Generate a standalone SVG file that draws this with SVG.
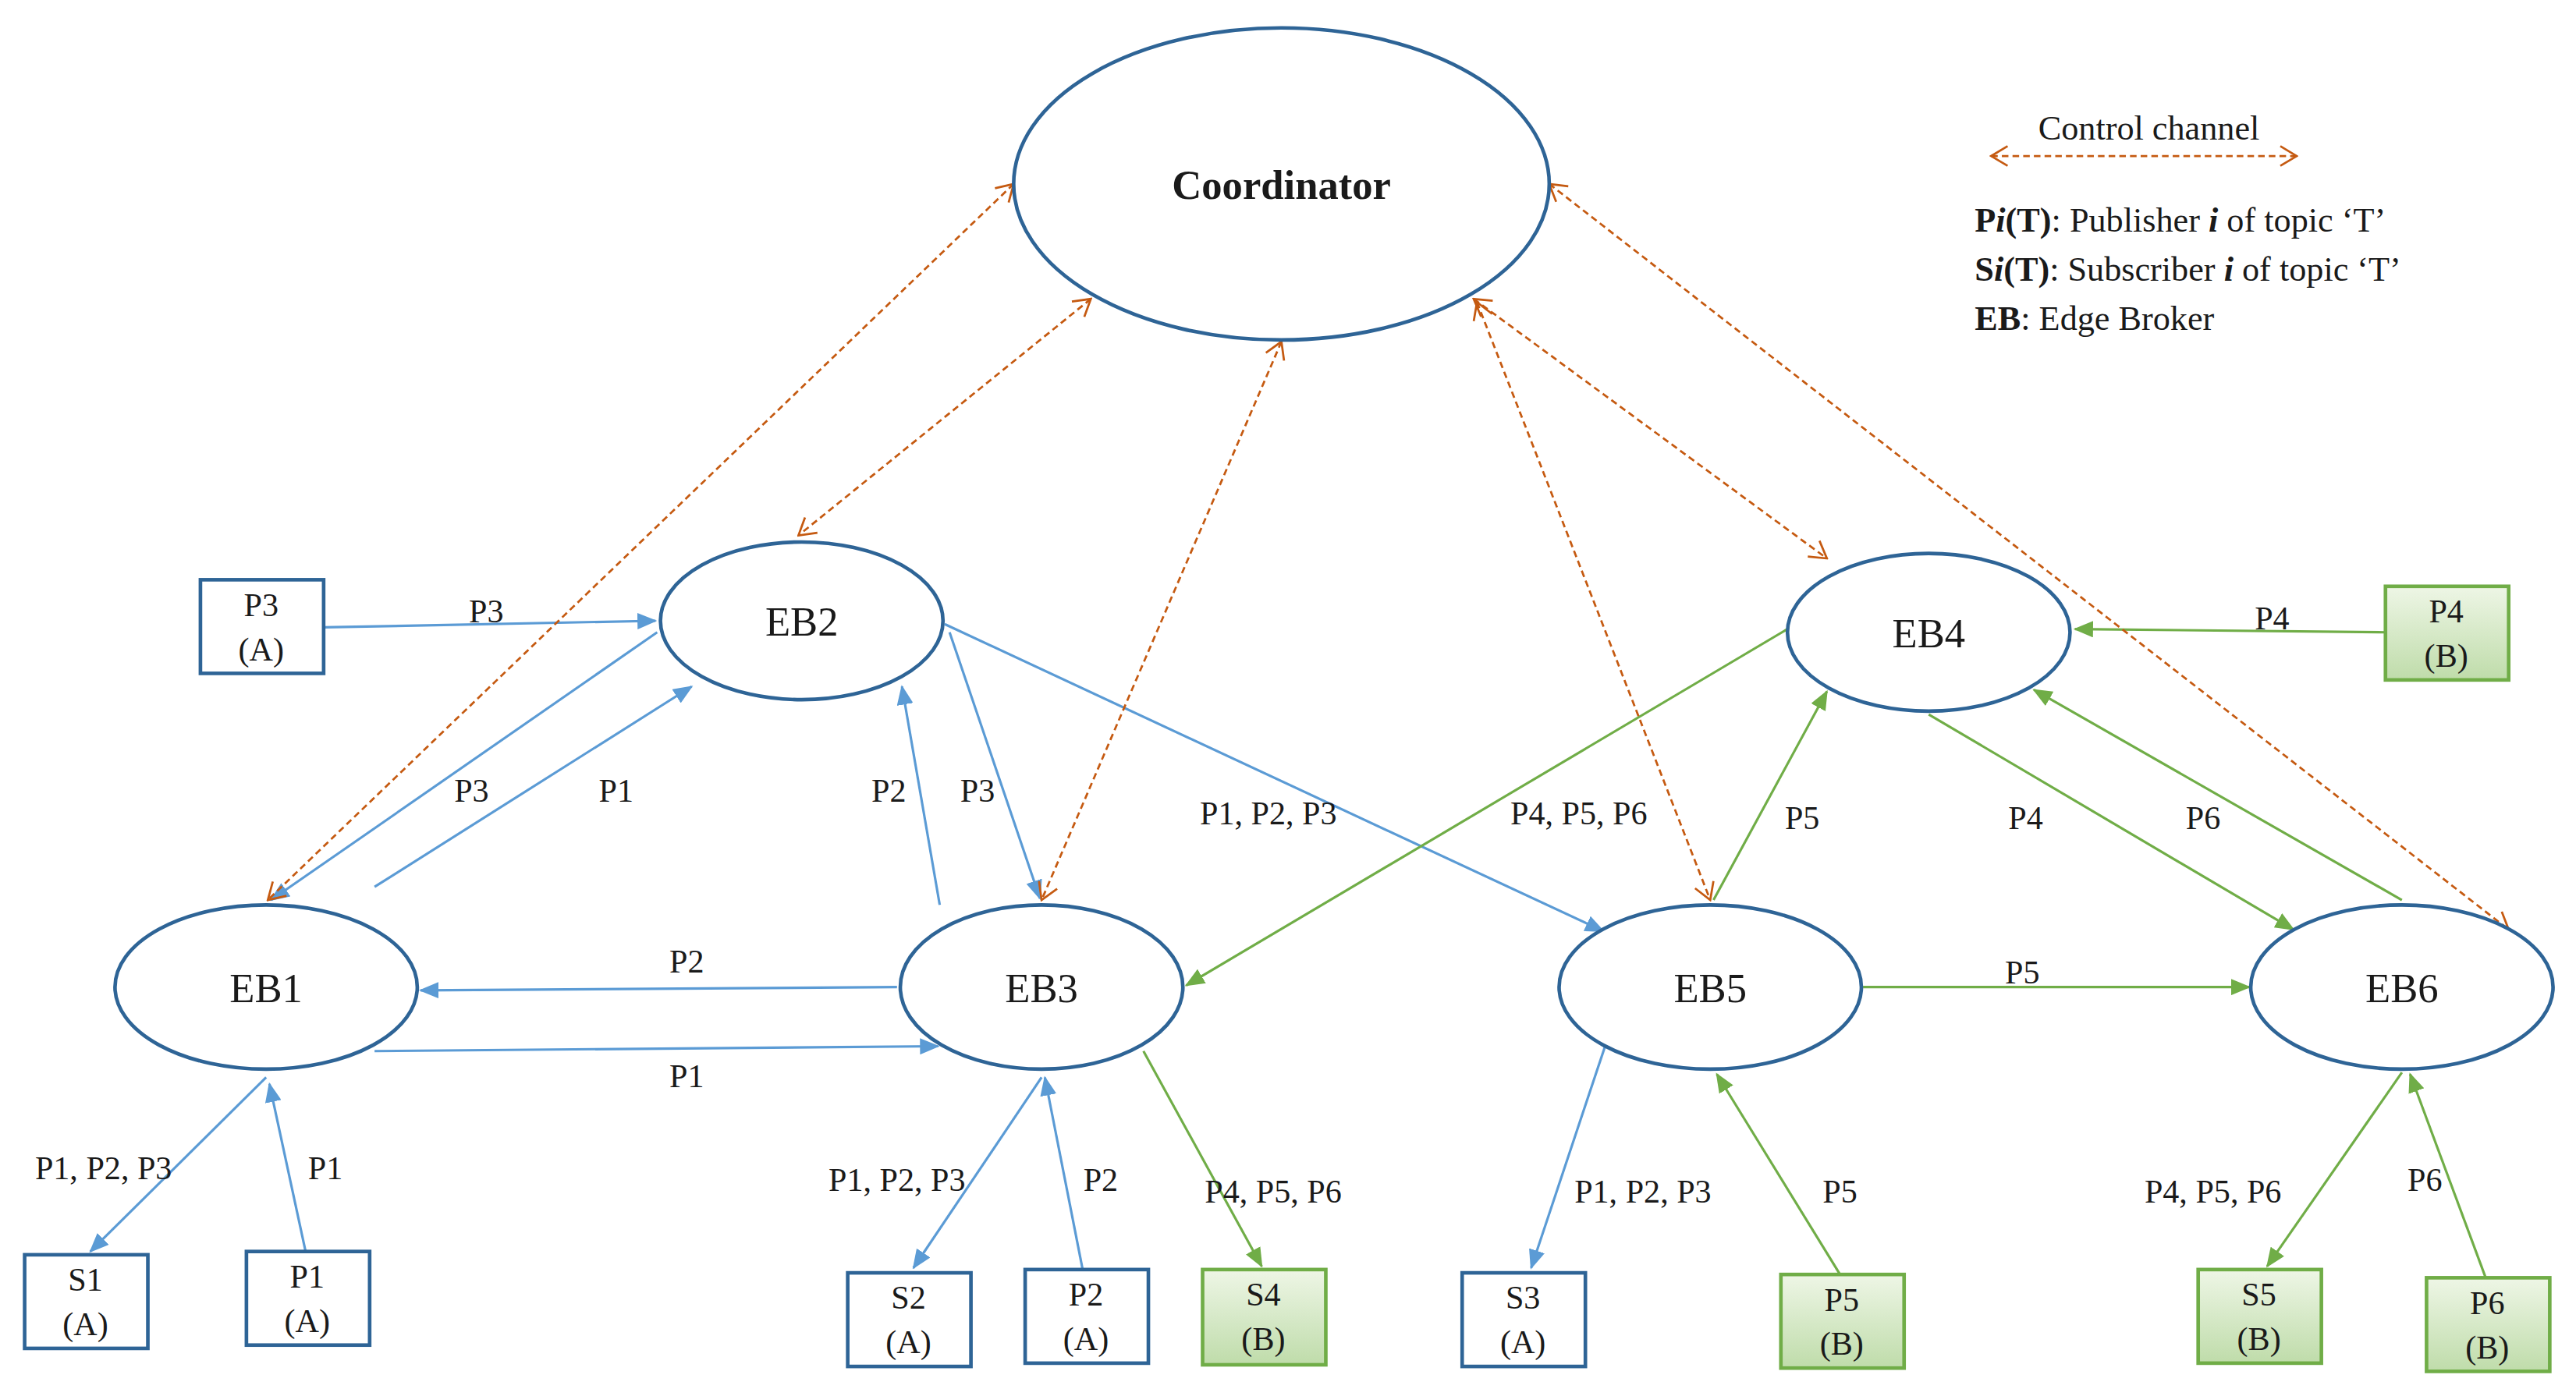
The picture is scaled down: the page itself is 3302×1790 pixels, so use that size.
<svg xmlns="http://www.w3.org/2000/svg" width="3302" height="1790" viewBox="0 0 3302 1790">
<style>
text{font-family:"Liberation Serif",serif;fill:#1a1a1a}
.eb{fill:#fff;stroke:#2E6496;stroke-width:2.2}
.bx{fill:#fff;stroke:#2E6496;stroke-width:2.2}
.gb{fill:url(#gg);stroke:#70AD47;stroke-width:2.2}
.nl{font-size:25px;text-anchor:middle}
.bl{font-size:20px;text-anchor:middle}
.lb{font-size:20px;text-anchor:middle}
.b{stroke:#5B9BD5;stroke-width:1.5;fill:none;marker-end:url(#ab)}
.g{stroke:#70AD47;stroke-width:1.5;fill:none;marker-end:url(#ag)}
.o{stroke:#C55A11;stroke-width:1.3;fill:none;stroke-dasharray:4 2.5;marker-start:url(#ao);marker-end:url(#ao)}
.lg{font-size:21px}
</style>
<defs>
<linearGradient id="gg" x1="0" y1="0" x2="0" y2="1"><stop offset="0" stop-color="#eef6e6"/><stop offset="1" stop-color="#bfdcaa"/></linearGradient>
<marker id="ab" viewBox="0 0 12 10" refX="11" refY="5" markerWidth="12" markerHeight="10" markerUnits="userSpaceOnUse" orient="auto"><path d="M0,0L12,5L0,10z" fill="#5B9BD5"/></marker>
<marker id="ag" viewBox="0 0 12 10" refX="11" refY="5" markerWidth="12" markerHeight="10" markerUnits="userSpaceOnUse" orient="auto"><path d="M0,0L12,5L0,10z" fill="#70AD47"/></marker>
<marker id="ao" viewBox="0 0 12 14" refX="11" refY="7" markerWidth="12" markerHeight="14" markerUnits="userSpaceOnUse" orient="auto-start-reverse"><path d="M1,1L11,7L1,13" fill="none" stroke="#C55A11" stroke-width="1.3"/></marker>
</defs>
<rect width="3302" height="1790" fill="#fff"/>
<g transform="scale(2.1059)">
<g id="connectors">
<line class="b" x1="197" y1="382" x2="399" y2="378"/>
<line class="b" x1="400" y1="385" x2="165" y2="548"/>
<line class="b" x1="228" y1="540" x2="421" y2="418"/>
<line class="b" x1="572" y1="551" x2="549" y2="418"/>
<line class="b" x1="578" y1="385" x2="633" y2="547"/>
<line class="b" x1="575" y1="380" x2="976" y2="567"/>
<line class="b" x1="546" y1="601" x2="256" y2="603"/>
<line class="b" x1="228" y1="640" x2="571" y2="637"/>
<line class="b" x1="162" y1="656" x2="55" y2="762"/>
<line class="b" x1="186" y1="762" x2="164" y2="660"/>
<line class="b" x1="634" y1="656" x2="556" y2="772"/>
<line class="b" x1="659" y1="773" x2="636" y2="656"/>
<line class="b" x1="977" y1="637" x2="932" y2="772"/>
<line class="g" x1="1452" y1="385" x2="1263" y2="383"/>
<line class="g" x1="1088" y1="383" x2="722" y2="600"/>
<line class="g" x1="1043" y1="548" x2="1112" y2="421"/>
<line class="g" x1="1174" y1="435" x2="1396" y2="566"/>
<line class="g" x1="1462" y1="548" x2="1238" y2="420"/>
<line class="g" x1="1134" y1="601" x2="1369" y2="601"/>
<line class="g" x1="696" y1="640" x2="768" y2="771"/>
<line class="g" x1="1120" y1="776" x2="1045" y2="654"/>
<line class="g" x1="1462" y1="653" x2="1380" y2="771"/>
<line class="g" x1="1513" y1="778" x2="1467" y2="654"/>
<line class="o" x1="617" y1="112" x2="163" y2="548"/>
<line class="o" x1="664" y1="182" x2="486" y2="326"/>
<line class="o" x1="780" y1="208" x2="634" y2="548"/>
<line class="o" x1="897" y1="182" x2="1112" y2="340"/>
<line class="o" x1="899" y1="184" x2="1041" y2="548"/>
<line class="o" x1="943" y1="112" x2="1527" y2="566"/>
<line class="o" x1="1212" y1="95" x2="1398" y2="95"/>
<g class="lb">
<text x="296" y="379">P3</text><text x="287" y="488">P3</text><text x="375" y="488">P1</text>
<text x="541" y="488">P2</text><text x="595" y="488">P3</text><text x="772" y="502">P1, P2, P3</text>
<text x="418" y="592">P2</text><text x="418" y="662">P1</text>
<text x="63" y="718">P1, P2, P3</text><text x="198" y="718">P1</text>
<text x="546" y="725">P1, P2, P3</text><text x="670" y="725">P2</text>
<text x="1000" y="732">P1, P2, P3</text>
<text x="1383" y="383">P4</text><text x="961" y="502">P4, P5, P6</text><text x="1097" y="505">P5</text>
<text x="1233" y="505">P4</text><text x="1341" y="505">P6</text><text x="1231" y="599">P5</text>
<text x="775" y="732">P4, P5, P6</text><text x="1120" y="732">P5</text>
<text x="1347" y="732">P4, P5, P6</text><text x="1476" y="725">P6</text>
</g>
</g>
<g id="coordinator"><ellipse class="eb" cx="780" cy="112" rx="163" ry="95"/><text x="780" y="121" class="nl" font-weight="bold">Coordinator</text></g>
<g id="eb1"><ellipse class="eb" cx="162" cy="601" rx="92" ry="50"/><text x="162" y="610" class="nl">EB1</text></g>
<g id="eb2"><ellipse class="eb" cx="488" cy="378" rx="86" ry="48"/><text x="488" y="387" class="nl">EB2</text></g>
<g id="eb3"><ellipse class="eb" cx="634" cy="601" rx="86" ry="50"/><text x="634" y="610" class="nl">EB3</text></g>
<g id="eb4"><ellipse class="eb" cx="1174" cy="385" rx="86" ry="48"/><text x="1174" y="394" class="nl">EB4</text></g>
<g id="eb5"><ellipse class="eb" cx="1041" cy="601" rx="92" ry="50"/><text x="1041" y="610" class="nl">EB5</text></g>
<g id="eb6"><ellipse class="eb" cx="1462" cy="601" rx="92" ry="50"/><text x="1462" y="610" class="nl">EB6</text></g>
<g id="p3"><rect class="bx" x="122" y="353" width="75" height="57"/><text class="bl" x="159" y="375">P3</text><text class="bl" x="159" y="402">(A)</text></g>
<g id="s1"><rect class="bx" x="15" y="764" width="75" height="57"/><text class="bl" x="52" y="786">S1</text><text class="bl" x="52" y="813">(A)</text></g>
<g id="p1"><rect class="bx" x="150" y="762" width="75" height="57"/><text class="bl" x="187" y="784">P1</text><text class="bl" x="187" y="811">(A)</text></g>
<g id="s2"><rect class="bx" x="516" y="775" width="75" height="57"/><text class="bl" x="553" y="797">S2</text><text class="bl" x="553" y="824">(A)</text></g>
<g id="p2"><rect class="bx" x="624" y="773" width="75" height="57"/><text class="bl" x="661" y="795">P2</text><text class="bl" x="661" y="822">(A)</text></g>
<g id="s4"><rect class="gb" x="732" y="773" width="75" height="58"/><text class="bl" x="769" y="795">S4</text><text class="bl" x="769" y="822">(B)</text></g>
<g id="s3"><rect class="bx" x="890" y="775" width="75" height="57"/><text class="bl" x="927" y="797">S3</text><text class="bl" x="927" y="824">(A)</text></g>
<g id="p5"><rect class="gb" x="1084" y="776" width="75" height="57"/><text class="bl" x="1121" y="798">P5</text><text class="bl" x="1121" y="825">(B)</text></g>
<g id="s5"><rect class="gb" x="1338" y="773" width="75" height="57"/><text class="bl" x="1375" y="795">S5</text><text class="bl" x="1375" y="822">(B)</text></g>
<g id="p6"><rect class="gb" x="1477" y="778" width="75" height="57"/><text class="bl" x="1514" y="800">P6</text><text class="bl" x="1514" y="827">(B)</text></g>
<g id="p4"><rect class="gb" x="1452" y="357" width="75" height="57"/><text class="bl" x="1489" y="379">P4</text><text class="bl" x="1489" y="406">(B)</text></g>
<g id="legend">
<text x="1308" y="85" class="lg" text-anchor="middle">Control channel</text>
<text x="1202" y="141" class="lg"><tspan font-weight="bold">P<tspan font-style="italic">i</tspan>(T)</tspan>: Publisher <tspan font-weight="bold" font-style="italic">i</tspan> of topic ‘T’</text>
<text x="1202" y="171" class="lg"><tspan font-weight="bold">S<tspan font-style="italic">i</tspan>(T)</tspan>: Subscriber <tspan font-weight="bold" font-style="italic">i</tspan> of topic ‘T’</text>
<text x="1202" y="201" class="lg"><tspan font-weight="bold">EB</tspan>: Edge Broker</text>
</g>
</g>
</svg>
